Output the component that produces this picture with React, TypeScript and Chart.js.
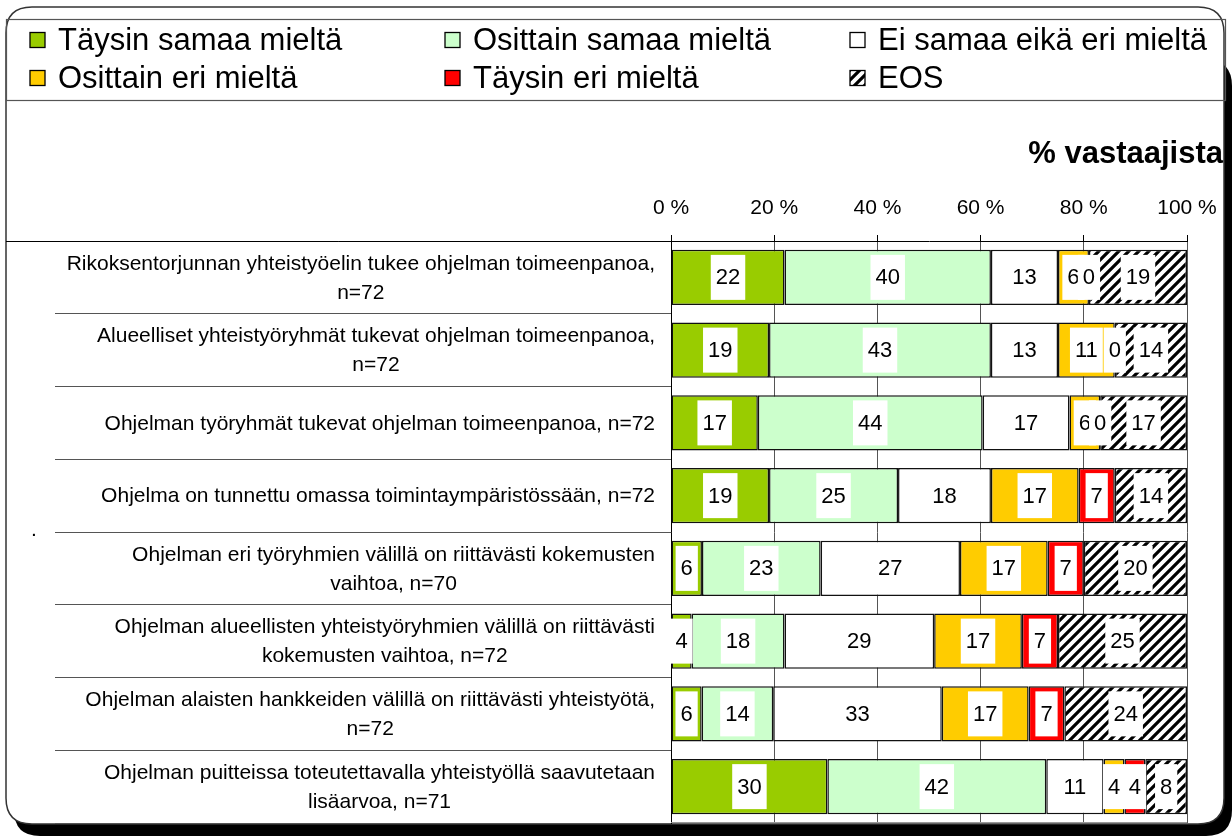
import React, { useEffect, useRef } from "react";
import { Chart, registerables } from "chart.js";

Chart.register(...registerables);

const FONT = "'Liberation Sans', Arial, sans-serif";

const categories: string[][] = [
  ["Rikoksentorjunnan yhteistyöelin tukee ohjelman toimeenpanoa,", "n=72"],
  ["Alueelliset yhteistyöryhmät tukevat ohjelman toimeenpanoa,", "n=72"],
  ["Ohjelman työryhmät tukevat ohjelman toimeenpanoa, n=72"],
  ["Ohjelma on tunnettu omassa toimintaympäristössään, n=72"],
  ["Ohjelman eri työryhmien välillä on riittävästi kokemusten", "vaihtoa, n=70"],
  ["Ohjelman alueellisten yhteistyöryhmien välillä on riittävästi", "kokemusten vaihtoa, n=72"],
  ["Ohjelman alaisten hankkeiden välillä on riittävästi yhteistyötä,", "n=72"],
  ["Ohjelman puitteissa toteutettavalla yhteistyöllä saavutetaan", "lisäarvoa, n=71"],
];

const seriesNames = [
  "Täysin samaa mieltä",
  "Osittain samaa mieltä",
  "Ei samaa eikä eri mieltä",
  "Osittain eri mieltä",
  "Täysin eri mieltä",
  "EOS",
];

const fullyAgree = [22, 19, 17, 19, 6, 4, 6, 30];
const partlyAgree = [40, 43, 44, 25, 23, 18, 14, 42];
const neither = [13, 13, 17, 18, 27, 29, 33, 11];
const partlyDisagree = [6, 11, 6, 17, 17, 17, 17, 4];
const fullyDisagree = [0, 0, 0, 7, 7, 7, 7, 4];
const eos = [19, 14, 17, 14, 20, 25, 24, 8];

const seriesColors = ["#99CC00", "#CCFFCC", "#FFFFFF", "#FFCC00", "#FF0000", "hatch"];

const xTickValues = [0, 20, 40, 60, 80, 100];
const axisTitle = "% vastaajista";

const allSeries = [fullyAgree, partlyAgree, neither, partlyDisagree, fullyDisagree, eos];

function makeHatch(ctx: CanvasRenderingContext2D) {
  const c = document.createElement("canvas");
  c.width = 10;
  c.height = 10;
  const g = c.getContext("2d")!;
  g.fillStyle = "#fff";
  g.fillRect(0, 0, 10, 10);
  g.strokeStyle = "#000";
  g.lineWidth = 3.2;
  g.beginPath();
  g.moveTo(-3, 13);
  g.lineTo(13, -3);
  g.moveTo(-8, 8);
  g.lineTo(8, -8);
  g.moveTo(2, 18);
  g.lineTo(18, 2);
  g.stroke();
  return ctx.createPattern(c, "repeat")!;
}

function roundRectPath(ctx: CanvasRenderingContext2D, x: number, y: number, w: number, h: number, r: number) {
  ctx.beginPath();
  ctx.moveTo(x + r, y);
  ctx.lineTo(x + w - r, y);
  ctx.quadraticCurveTo(x + w, y, x + w, y + r);
  ctx.lineTo(x + w, y + h - r);
  ctx.quadraticCurveTo(x + w, y + h, x + w - r, y + h);
  ctx.lineTo(x + r, y + h);
  ctx.quadraticCurveTo(x, y + h, x, y + h - r);
  ctx.lineTo(x, y + r);
  ctx.quadraticCurveTo(x, y, x + r, y);
  ctx.closePath();
}

export default function App() {
  const ref = useRef<HTMLCanvasElement>(null);

  useEffect(() => {
    document.body.style.margin = "0";
    const canvas = ref.current!;
    const ctx0 = canvas.getContext("2d")!;
    const hatch = makeHatch(ctx0);
    const colors = seriesColors.map((c) => (c === "hatch" ? hatch : c));

    const rowSums = categories.map((_, j) => allSeries.reduce((s, arr) => s + arr[j], 0));

    const framePlugin = {
      id: "frame",
      beforeDraw(chart: any) {
        const ctx = chart.ctx as CanvasRenderingContext2D;
        ctx.save();
        ctx.fillStyle = "#fff";
        ctx.fillRect(0, 0, chart.width, chart.height);
        // shadow
        ctx.fillStyle = "#000";
        roundRectPath(ctx, 14, 60, 1232 - 14, 836 - 60, 26);
        ctx.fill();
        // frame
        ctx.fillStyle = "#fff";
        roundRectPath(ctx, 6, 7, 1224 - 6, 824 - 7, 26);
        ctx.fill();
        ctx.strokeStyle = "#333";
        ctx.lineWidth = 1.5;
        ctx.stroke();
        // legend box
        ctx.strokeStyle = "#555";
        ctx.lineWidth = 1.2;
        ctx.strokeRect(6.5, 19.5, 1219, 81);

        // legend items
        const colX = [30, 445, 850];
        const rowY = [40, 78];
        ctx.font = `31px ${FONT}`;
        ctx.textBaseline = "middle";
        ctx.textAlign = "left";
        seriesNames.forEach((name, i) => {
          const bx = colX[i % 3];
          const cy = rowY[Math.floor(i / 3)];
          ctx.fillStyle = colors[i] as any;
          ctx.fillRect(bx, cy - 7.5, 15, 15);
          ctx.strokeStyle = "#000";
          ctx.lineWidth = 1.3;
          ctx.strokeRect(bx, cy - 7.5, 15, 15);
          ctx.fillStyle = "#000";
          ctx.fillText(name, bx + 28, cy + 1);
        });

        // axis title
        ctx.font = `bold 31px ${FONT}`;
        ctx.textAlign = "right";
        ctx.textBaseline = "alphabetic";
        ctx.fillText(axisTitle, 1223, 163);

        // stray dot
        ctx.font = `21px ${FONT}`;
        ctx.textAlign = "left";
        ctx.fillText(".", 31, 536);
        ctx.restore();
      },
      afterDraw(chart: any) {
        const ctx = chart.ctx as CanvasRenderingContext2D;
        const a = chart.chartArea;
        ctx.save();
        // top separator extension
        ctx.strokeStyle = "#000";
        ctx.lineWidth = 1;
        ctx.beginPath();
        ctx.moveTo(6, Math.round(a.top) + 0.5);
        ctx.lineTo(a.left, Math.round(a.top) + 0.5);
        ctx.stroke();
        // bottom plot border
        ctx.strokeStyle = "#999";
        ctx.beginPath();
        ctx.moveTo(a.left, Math.round(a.bottom) - 0.5);
        ctx.lineTo(a.right, Math.round(a.bottom) - 0.5);
        ctx.stroke();

        // category labels: each block centred on itself, right-aligned to axis
        const yScale = chart.scales.y;
        ctx.font = `21px ${FONT}`;
        ctx.fillStyle = "#000";
        ctx.textAlign = "center";
        ctx.textBaseline = "middle";
        const rightEdge = a.left - 16;
        const lineH = 29;
        categories.forEach((lines, j) => {
          const cy = yScale.getPixelForValue(j);
          const maxW = Math.max(...lines.map((l) => ctx.measureText(l).width));
          const cx = rightEdge - maxW / 2;
          const y0 = cy - ((lines.length - 1) * lineH) / 2;
          lines.forEach((l, k) => ctx.fillText(l, cx, y0 + k * lineH + 1));
        });
        ctx.restore();
      },
    };

    const valueLabelPlugin = {
      id: "valueLabels",
      afterDatasetsDraw(chart: any) {
        const ctx = chart.ctx as CanvasRenderingContext2D;
        ctx.save();
        ctx.font = `22px ${FONT}`;
        ctx.textAlign = "center";
        ctx.textBaseline = "middle";
        chart.data.datasets.forEach((_: any, i: number) => {
          const meta = chart.getDatasetMeta(i);
          meta.data.forEach((el: any, j: number) => {
            const p = el.getProps(["x", "base", "y", "height"], true);
            const cx = (p.x + p.base) / 2;
            const txt = String(allSeries[i][j]);
            const w = ctx.measureText(txt).width + 10;
            ctx.fillStyle = "#fff";
            ctx.fillRect(cx - w / 2, p.y - 22.5, w, 45);
            ctx.fillStyle = "#000";
            ctx.fillText(txt, cx, p.y + 1);
          });
        });
        ctx.restore();
      },
    };

    const chart = new Chart(canvas, {
      type: "bar",
      data: {
        labels: categories.map((c) => c.join(" ")),
        datasets: seriesNames.map((name, i) => ({
          label: name,
          data: allSeries[i].map((v, j) => (v / rowSums[j]) * 100),
          backgroundColor: colors[i] as any,
          borderColor: "#111",
          borderWidth: 1.5,
          borderSkipped: false,
          barPercentage: 0.76,
          categoryPercentage: 1,
        })),
      },
      options: {
        indexAxis: "y",
        animation: false,
        responsive: true,
        maintainAspectRatio: false,
        devicePixelRatio: 1,
        layout: { padding: { left: 0, right: 45, top: 0, bottom: 14 } },
        plugins: {
          legend: { display: false },
          tooltip: { enabled: false },
          title: { display: false },
        },
        scales: {
          x: {
            type: "linear",
            position: "top",
            stacked: true,
            min: 0,
            max: 100,
            afterBuildTicks(scale: any) {
              scale.ticks = xTickValues.map((v) => ({ value: v }));
            },
            afterFit(scale: any) {
              scale.height = 241;
            },
            ticks: {
              font: { family: FONT, size: 21 },
              color: "#000",
              padding: 14,
              callback: (v: any) => `${v} %`,
            },
            grid: { color: "#555", lineWidth: 1, tickLength: 6, tickColor: "#000" },
            border: { display: true, color: "#000", width: 1 },
          },
          y: {
            type: "category",
            stacked: true,
            afterFit(scale: any) {
              scale.width = 671;
            },
            ticks: { display: false },
            grid: {
              offset: true,
              drawOnChartArea: false,
              tickLength: 616,
              color: "#555",
              lineWidth: 1,
            },
            border: { display: true, color: "#000", width: 1 },
          },
        },
      },
      plugins: [framePlugin, valueLabelPlugin],
    } as any);

    return () => chart.destroy();
  }, []);

  return (
    <div style={{ width: 1232, height: 837, position: "relative" }}>
      <canvas ref={ref} style={{ display: "block" }} />
    </div>
  );
}
